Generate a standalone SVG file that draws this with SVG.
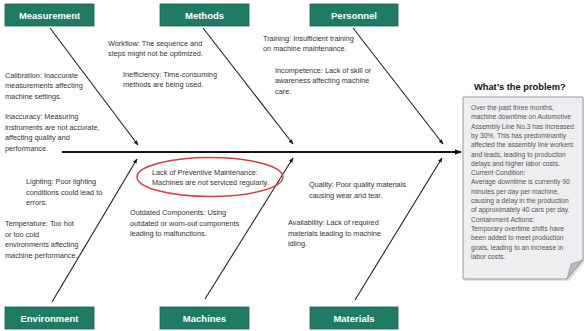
<svg xmlns="http://www.w3.org/2000/svg" width="584" height="331" viewBox="0 0 584 331">
<defs>
<marker id="ah" viewBox="0 0 10 10" refX="9" refY="5" markerWidth="5" markerHeight="5" orient="auto" markerUnits="userSpaceOnUse">
<path d="M0,1 L10,5 L0,9 Z" fill="#1a1a1a"/>
</marker>
<marker id="ahs" viewBox="0 0 10 10" refX="9" refY="5" markerWidth="7" markerHeight="7" orient="auto" markerUnits="userSpaceOnUse">
<path d="M0,1 L10,5 L0,9 Z" fill="#111"/>
</marker>
<style>
.box{fill:#1f7a66;stroke:#176452;stroke-width:0.8}
.bl{font-family:"Liberation Sans",Arial,sans-serif;font-size:9.5px;font-weight:bold;fill:#ffffff;text-anchor:middle}
.t{font-family:"Liberation Sans",Arial,sans-serif;font-size:7.3px;fill:#333333}
.p{font-family:"Liberation Sans",Arial,sans-serif;font-size:6.7px;fill:#555555}
.bone{stroke:#222222;stroke-width:1.1;fill:none;marker-end:url(#ah)}
</style>
</defs>
<rect width="584" height="331" fill="#ffffff"/>

<g id="connectors">
<line x1="62" y1="152" x2="461" y2="152" stroke="#111" stroke-width="2" marker-end="url(#ahs)"/>
<line class="bone" x1="50" y1="28" x2="138" y2="145"/>
<line class="bone" x1="203" y1="28" x2="293" y2="144"/>
<line class="bone" x1="353" y1="28" x2="443" y2="144"/>
<line class="bone" x1="52" y1="302" x2="137" y2="159"/>
<line class="bone" x1="205" y1="299" x2="293" y2="158"/>
<line class="bone" x1="355" y1="300" x2="442" y2="158"/>
</g>

<g id="measurement">
<rect class="box" x="5" y="4" width="89" height="22"/>
<text class="bl" x="49.5" y="18.5">Measurement</text>
<text class="t" x="5" y="77.5">Calibration: Inaccurate</text>
<text class="t" x="5" y="88">measurements affecting</text>
<text class="t" x="5" y="98.5">machine settings.</text>
<text class="t" x="5" y="119">Inaccuracy: Measuring</text>
<text class="t" x="5" y="129.5">instruments are not accurate,</text>
<text class="t" x="5" y="140">affecting quality and</text>
<text class="t" x="5" y="150.5">performance.</text>
</g>

<g id="methods">
<rect class="box" x="160" y="4" width="89" height="22"/>
<text class="bl" x="204.5" y="18.5">Methods</text>
<text class="t" x="108" y="45.5">Workflow: The sequence and</text>
<text class="t" x="108" y="56">steps might not be optimized.</text>
<text class="t" x="123" y="76.5">Inefficiency: Time-consuming</text>
<text class="t" x="123" y="87">methods are being used.</text>
</g>

<g id="personnel">
<rect class="box" x="310" y="4" width="88" height="22"/>
<text class="bl" x="354" y="18.5">Personnel</text>
<text class="t" x="263" y="40.5">Training: Insufficient training</text>
<text class="t" x="263" y="51">on machine maintenance.</text>
<text class="t" x="275" y="72.5">Incompetence: Lack of skill or</text>
<text class="t" x="275" y="83">awareness affecting machine</text>
<text class="t" x="275" y="93.5">care.</text>
</g>

<g id="environment">
<rect class="box" x="5" y="307" width="89" height="22"/>
<text class="bl" x="49.5" y="321.5">Environment</text>
<text class="t" x="26" y="184">Lighting: Poor lighting</text>
<text class="t" x="26" y="194.5">conditions could lead to</text>
<text class="t" x="26" y="205">errors.</text>
<text class="t" x="5" y="226">Temperature: Too hot</text>
<text class="t" x="5" y="236.5">or too cold</text>
<text class="t" x="5" y="247">environments affecting</text>
<text class="t" x="5" y="257.5">machine performance.</text>
</g>

<g id="machines">
<rect class="box" x="160" y="307" width="89" height="22"/>
<text class="bl" x="204.5" y="321.5">Machines</text>
<ellipse cx="210" cy="177" rx="73" ry="19.5" fill="none" stroke="#d2404a" stroke-width="1.5"/>
<text class="t" x="152" y="174.5">Lack of Preventive Maintenance:</text>
<text class="t" x="152" y="185">Machines are not serviced regularly.</text>
<text class="t" x="130" y="215">Outdated Components: Using</text>
<text class="t" x="130" y="225.5">outdated or worn-out components</text>
<text class="t" x="130" y="236">leading to malfunctions.</text>
</g>

<g id="materials">
<rect class="box" x="310" y="307" width="88" height="22"/>
<text class="bl" x="354" y="321.5">Materials</text>
<text class="t" x="309" y="187">Quality: Poor quality materials</text>
<text class="t" x="309" y="197.5">causing wear and tear.</text>
<text class="t" x="288" y="225">Availability: Lack of required</text>
<text class="t" x="288" y="235.5">materials leading to machine</text>
<text class="t" x="288" y="246">idling.</text>
</g>

<g id="problem">
<text x="474" y="90" font-family="'Liberation Sans',Arial,sans-serif" font-size="9.3px" font-weight="bold" fill="#111">What’s the problem?</text>
<path d="M465,99 H585 V262 L569,281 H465 Z" fill="#cfcfd2" opacity="0.6"/>
<path d="M463,97 H583 V260 L567,279 H463 Z" fill="#eeeef0" stroke="#8f8f99" stroke-width="0.9"/>
<path d="M567,279 L571,264 L583,260 Z" fill="#b9b9be" stroke="#8f8f99" stroke-width="0.7"/>
<text class="p" x="471" y="110">Over the past three months,</text>
<text class="p" x="471" y="119.3">machine downtime on Automotive</text>
<text class="p" x="471" y="128.6">Assembly Line No.3 has increased</text>
<text class="p" x="471" y="137.9">by 30%. This has predominantly</text>
<text class="p" x="471" y="147.2">affected the assembly line workers</text>
<text class="p" x="471" y="156.5">and leads, leading to production</text>
<text class="p" x="471" y="165.8">delays and higher labor costs.</text>
<text class="p" x="471" y="175.1">Current Condition:</text>
<text class="p" x="471" y="184.4">Average downtime is currently 90</text>
<text class="p" x="471" y="193.7">minutes per day per machine,</text>
<text class="p" x="471" y="203">causing a delay in the production</text>
<text class="p" x="471" y="212.3">of approximately 40 cars per day.</text>
<text class="p" x="471" y="221.6">Containment Actions:</text>
<text class="p" x="471" y="230.9">Temporary overtime shifts have</text>
<text class="p" x="471" y="240.2">been added to meet production</text>
<text class="p" x="471" y="249.5">goals, leading to an increase in</text>
<text class="p" x="471" y="258.8">labor costs.</text>
</g>
</svg>
